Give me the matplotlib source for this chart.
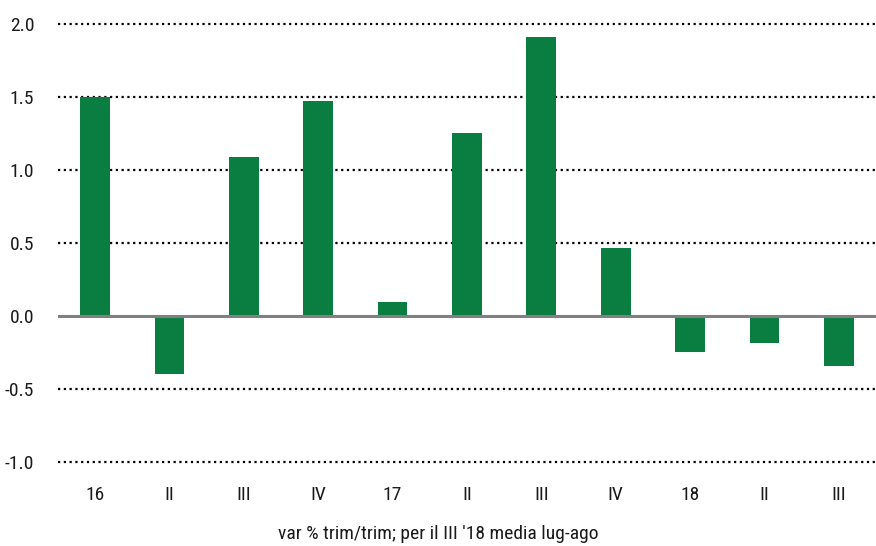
import numpy as np
import matplotlib
matplotlib.use('Agg')
import matplotlib.pyplot as plt

# data
categories = ['16', 'II', 'III', 'IV', '17', 'II', 'III', 'IV', '18', 'II', 'III']
values = [1.5, -0.4, 1.09, 1.47, 0.095, 1.25, 1.91, 0.465, -0.25, -0.185, -0.34]
yticks = [-1.0, -0.5, 0.0, 0.5, 1.0, 1.5, 2.0]
xlabel = "var % trim/trim; per il III '18 media lug-ago"

plt.rcParams['font.family'] = ['DejaVu Sans Condensed', 'Roboto Condensed', 'DejaVu Sans']
plt.rcParams['font.stretch'] = 'condensed'

fig = plt.figure(figsize=(8.76, 5.46), dpi=100)
ax = fig.add_axes([0.066, 0.154, 0.934, 0.802])

x = np.arange(len(categories))
ax.bar(x, values, width=0.4, color='#0A7D40', zorder=3)

# dotted grid, solid grey zero line
for t in yticks:
    if t == 0:
        ax.axhline(0, color='#808080', lw=2.2, zorder=4)
    else:
        ax.axhline(t, color='black', lw=1.6, ls=(0, (1, 1.6)), zorder=1, clip_on=False)

ax.set_xlim(-0.5, len(categories) - 0.5)
ax.set_ylim(-1.0, 2.0)
ax.set_yticks(yticks)
ax.set_yticklabels([f'{t:.1f}' for t in yticks], fontsize=14)
ax.set_xticks(x)
ax.set_xticklabels(categories, fontsize=14)
ax.tick_params(axis='both', length=0, colors='#1a1a1a')
ax.tick_params(axis='y', pad=17)
ax.tick_params(axis='x', pad=17)
for s in ax.spines.values():
    s.set_visible(False)

fig.text(0.5, 0.022, xlabel, ha='center', va='center', fontsize=14, color='#1a1a1a')

fig.savefig('out.png', dpi=100)
